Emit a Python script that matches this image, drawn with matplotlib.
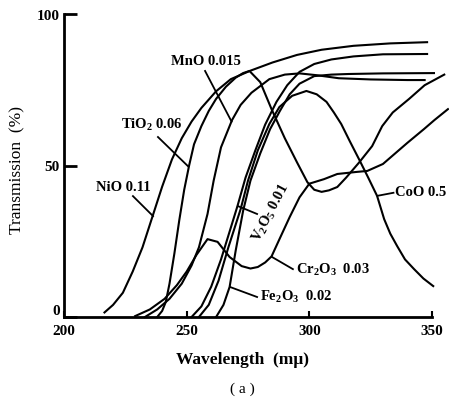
import numpy as np
import matplotlib
matplotlib.use("Agg")
import matplotlib.pyplot as plt

plt.rcParams['font.family'] = ['Liberation Serif', 'DejaVu Serif']
plt.rcParams['mathtext.default'] = 'regular'

# transmission curves, wavelength (m mu) vs transmission (%)
nio_wl = [216.5, 220, 224, 228, 232, 236, 240, 244, 248, 252, 256, 262, 268, 276, 285, 295, 305, 318, 333, 348]
nio_t = [1.5, 4, 8, 15, 23, 33, 43, 52, 59, 64.5, 69, 74.5, 78.5, 81.3, 84, 86.5, 88.2, 89.5, 90.3, 90.7]

tio2_wl = [238, 240, 241.5, 243, 245, 247, 249, 251, 253, 256, 259, 262, 266, 270, 273, 275.6, 280, 284.6,
           290, 295, 299.2, 302, 305, 308, 311.4, 315, 320.3, 325.6, 329.7, 334, 340.7, 347, 355]
tio2_t = [0, 2, 5, 11, 21, 32, 42, 50, 57, 63, 68, 72, 76, 79, 80.5, 81.2, 77.5, 68.6,
          59, 51, 44.5, 42, 41.3, 41.8, 42.9, 46, 51, 56.4, 63, 67.5, 72, 76.5, 80]

mno_wl = [233, 238, 243, 248, 252, 255, 258.5, 261, 264, 268.5, 272, 276.4, 283.7, 290, 296, 303, 312, 325, 340, 347]
mno_t = [0, 2.5, 6, 11, 17, 23, 34, 45, 56, 65, 70, 74, 78.5, 80, 80.4, 79.8, 78.8, 78.4, 78.2, 78.2]

v2o5_wl = [252, 256, 260, 264, 268, 270.7, 274, 278, 282, 286.6, 291, 296, 302, 309, 318, 330, 348]
v2o5_t = [0, 3.5, 10, 19, 29.5, 36.6, 46, 55, 63.5, 71, 76.5, 80.9, 83.5, 85, 86, 86.7, 86.8]

coo_wl = [255, 259, 263, 267, 272, 275, 279, 283.7, 287.8, 293, 298.8, 303, 307, 310, 313, 316.5, 320.3,
          324, 327.6, 330.5, 333, 335.8, 339, 342.7, 346.5, 350.5]
coo_t = [0, 4, 12, 23, 35.6, 45, 55, 63.7, 69.3, 73, 74.6, 73.5, 71, 67.5, 63.7, 58, 52,
         46, 40, 32.3, 27.5, 23.4, 19, 15.8, 12.7, 10.2]

fe2o3_wl = [262, 265, 267.5, 270, 273, 276, 280, 284, 288, 292, 296, 302, 309, 316, 330, 350.8]
fe2o3_t = [0, 4, 9.9, 22, 35, 45, 54, 62, 68, 73.5, 77, 79.5, 80, 80.2, 80.4, 80.5]

cr2o3_wl = [229, 235, 241, 246, 250, 254, 258.5, 262.6, 267.5, 272.4, 276, 279, 282, 284.6, 288, 292, 296,
            300, 306, 311.4, 319.5, 323.6, 330, 335, 340, 346.7, 351, 356.5]
cr2o3_t = [0.3, 2.5, 6, 10.5, 15, 20.5, 25.7, 24.8, 19.8, 16.8, 16, 16.5, 18, 20, 26, 33, 39.5,
           44, 45.5, 47.2, 47.9, 48.2, 50.5, 54, 57.5, 62, 65, 68.6]

curves = [(nio_wl, nio_t), (tio2_wl, tio2_t), (mno_wl, mno_t), (v2o5_wl, v2o5_t),
          (coo_wl, coo_t), (fe2o3_wl, fe2o3_t), (cr2o3_wl, cr2o3_t)]

fig = plt.figure(figsize=(4.49, 4.02), dpi=100)
ax = fig.add_axes([64 / 449, 1 - 318 / 402, 368 / 449, 303 / 402])

for wl, t in curves:
    ax.plot(wl, t, color='black', lw=1.5, solid_joinstyle='round', clip_on=False)

ax.set_xlim(200, 350)
ax.set_ylim(0, 100)
ax.spines['top'].set_visible(False)
ax.spines['right'].set_visible(False)
ax.spines['left'].set_linewidth(2)
ax.spines['bottom'].set_linewidth(2)

ax.set_yticks([0, 50, 100])
ax.set_xticks([200, 250, 300, 350])
ax.tick_params(axis='y', direction='in', length=9, width=2, pad=3, labelsize=11)
ax.tick_params(axis='x', direction='in', length=4, width=1.5, pad=5, labelsize=11)
for lab in ax.get_xticklabels() + ax.get_yticklabels():
    lab.set_fontweight('bold')
# keep the zero label clear of the 200 below it
ax.get_yticklabels()[0].set_va('bottom')

# labels with leader lines: (text, text pos, line start, line end, rotation, ha)
notes = [
    ("MnO 0.015", (257.9, 84.5), (257.5, 81.2), (268.3, 64.5), 0, 'center'),
    ("TiO$_2$ 0.06", (235.9, 63.7), (238.3, 59.4), (250.5, 49.8), 0, 'center'),
    ("NiO 0.11", (224.0, 43.2), (228.1, 39.9), (236.3, 33.3), 0, 'center'),
    ("V$_2$O$_5$ 0.01", (284.5, 34.5), (278.7, 34.0), (270.9, 36.6), 62, 'center'),
    ("Cr$_2$O$_3$  0.03", (309.5, 15.8), (293.3, 15.8), (284.8, 19.8), 0, 'center'),
    ("Fe$_2$O$_3$  0.02", (294.5, 6.9), (278.7, 6.6), (267.7, 9.9), 0, 'center'),
    ("CoO 0.5", (334.9, 41.3), (334.3, 41.0), (327.8, 40.0), 0, 'left'),
]
for text, tpos, p0, p1, rot, ha in notes:
    ax.plot([p0[0], p1[0]], [p0[1], p1[1]], color='black', lw=1.3, clip_on=False)
    ax.text(tpos[0], tpos[1], text, rotation=rot, ha=ha, va='center',
            fontsize=10.5, fontweight='bold', clip_on=False)

fig.text(17 / 449, 1 - 170 / 402, "Transmission  (%)", rotation=90,
         ha='center', va='center', fontsize=12.5)
fig.text(242 / 449, 1 - 360 / 402, "Wavelength  (m\u03bc)", ha='center', va='center',
         fontsize=12.5, fontweight='bold')
fig.text(242 / 449, 1 - 389 / 402, "( a )", ha='center', va='center', fontsize=11)

fig.savefig("out.png", dpi=100)
